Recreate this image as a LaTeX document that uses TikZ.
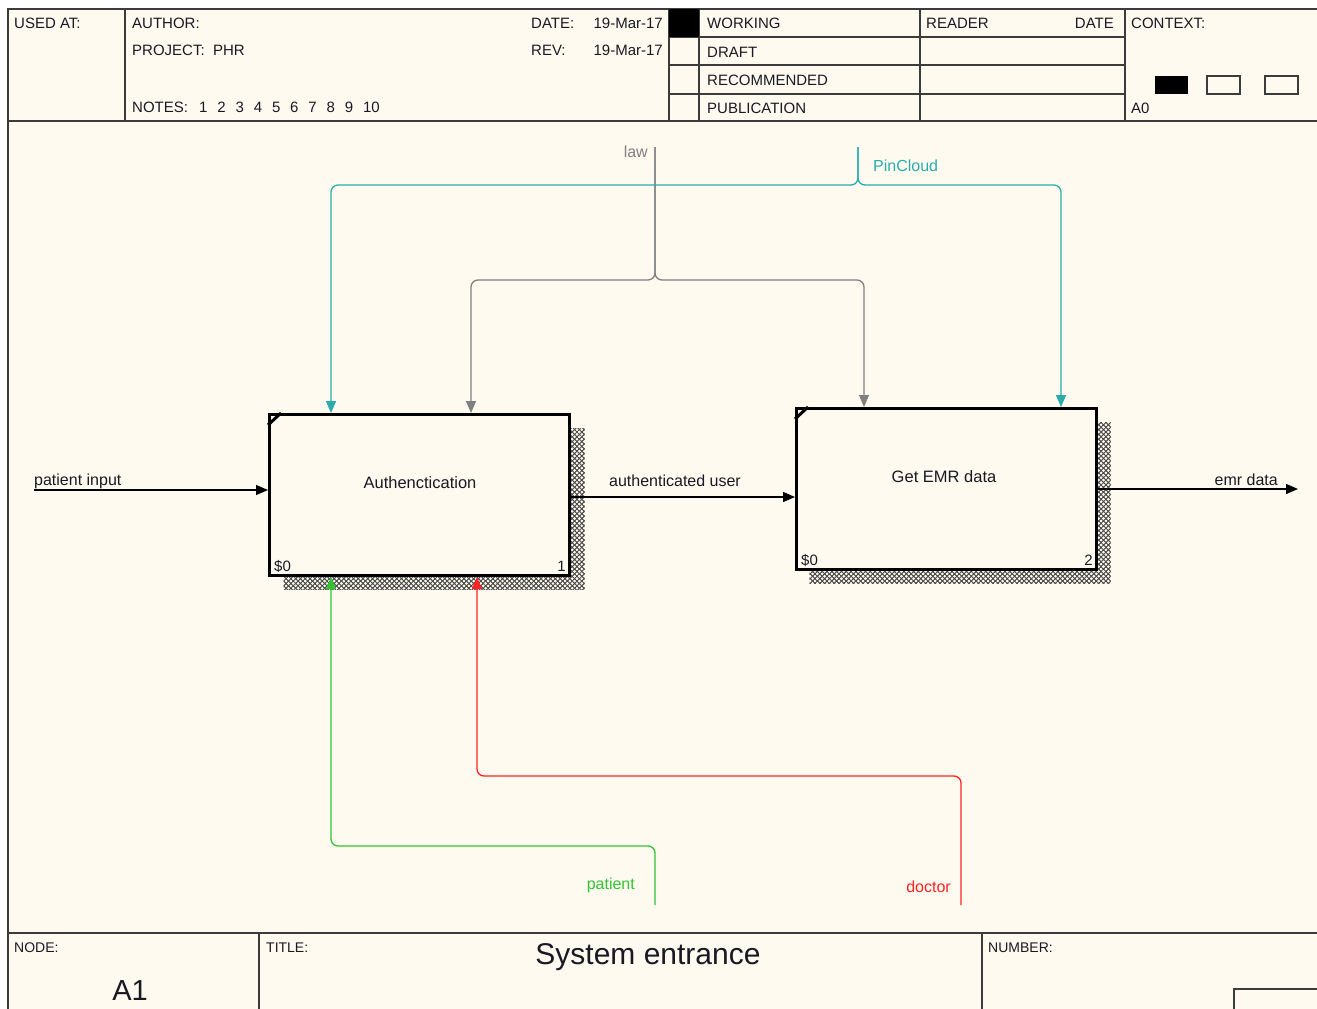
\documentclass[tikz,border=0pt]{standalone}
\usepackage{fontspec}
\setmainfont{Liberation Sans}
\usetikzlibrary{arrows.meta}
\usetikzlibrary{positioning}
\usetikzlibrary{patterns.meta}
\definecolor{sheet}{RGB}{255,250,240}
\definecolor{sheetrule}{RGB}{60,60,60}
\definecolor{ink}{RGB}{25,25,35}
\definecolor{lawgray}{RGB}{128,128,128}
\definecolor{pinteal}{RGB}{40,172,172}
\definecolor{patgreen}{RGB}{50,195,50}
\definecolor{docred}{RGB}{255,35,35}
\tikzset{
  sheetline/.style={draw=sheetrule, line width=1.3pt},
  hdr/.style={anchor=base west, inner sep=0pt, text=ink, font=\fontsize{15}{18}\selectfont},
  ftr/.style={anchor=base west, inner sep=0pt, text=ink, font=\fontsize{14}{17}\selectfont},
  lbl/.style={inner sep=0pt, text=ink, font=\fontsize{16}{19}\selectfont},
  actbox/.style={draw=black, line width=3pt, fill=sheet, minimum width=300pt, minimum height=161pt, inner sep=0pt},
  boxtext/.style={inner sep=0pt, text=ink, font=\fontsize{16.5}{20}\selectfont},
  boxnum/.style={inner sep=0pt, text=ink, font=\fontsize{15}{18}\selectfont},
  hatcha/.style={pattern={Hatch[angle=45,distance=3.4pt,line width=0.7pt]}, pattern color=gray!60!black},
  hatchb/.style={pattern={Hatch[angle=-45,distance=3.4pt,line width=0.7pt]}, pattern color=gray!60!black},
  flow/.style={line width=1.3pt, rounded corners=7pt, -{Triangle[length=12pt,width=10pt]}},
}
\begin{document}
\begin{tikzpicture}[x=1pt,y=-1pt]
  \useasboundingbox (0,0) rectangle (1317,1009);

  % sheet and header
  \fill[sheet] (8,9) rectangle (1317,1009);
  \draw[sheetline, line width=2pt] (8,1009) -- (8,9) -- (1317,9);
  \draw[sheetline] (8,121) -- (1317,121);
  \draw[sheetline] (125,9) -- (125,121);
  \draw[sheetline] (669,9) -- (669,121);
  \draw[sheetline] (699,9) -- (699,121);
  \draw[sheetline] (920,9) -- (920,121);
  \draw[sheetline] (1125,9) -- (1125,121);
  \foreach \y in {37,65,94}
    \draw[sheetline] (669,\y) -- (1125,\y);
  \fill[black] (669,9) rectangle (699,37);
  \fill[black] (1155,76) rectangle (1188,94);
  \draw[sheetline] (1207,76) rectangle (1240,94);
  \draw[sheetline] (1265,76) rectangle (1298,94);

  \node[hdr] (usedat) at (14,28) {USED AT:};
  \node[hdr] (author) at (132,28) {AUTHOR:};
  \node[hdr] (project) at (132,55) {PROJECT:\ \ PHR};
  \node[hdr] (notes) at (132,112) {NOTES:};
  \foreach \n in {1,...,10}
    \node[hdr] at (199+18.2*\n-18.2,112) {\n};
  \node[hdr] (date) at (531,28) {DATE:};
  \node[hdr, anchor=base east] (dateval) at (663,28) {19-Mar-17};
  \node[hdr] (rev) at (531,55) {REV:};
  \node[hdr, anchor=base east] (revval) at (663,55) {19-Mar-17};
  \node[hdr] (working) at (707,28) {WORKING};
  \node[hdr] (draft) at (707,57) {DRAFT};
  \node[hdr] (recommended) at (707,85) {RECOMMENDED};
  \node[hdr] (publication) at (707,113) {PUBLICATION};
  \node[hdr] (reader) at (926,28) {READER};
  \node[hdr, anchor=base east] (readerdate) at (1114,28) {DATE};
  \node[hdr] (context) at (1131,28) {CONTEXT:};
  \node[hdr] (a0) at (1131,113) {A0};

  % footer
  \draw[sheetline] (8,933) -- (1317,933);
  \draw[sheetline] (259,933) -- (259,1009);
  \draw[sheetline] (982,933) -- (982,1009);
  \draw[sheetline] (1234,1009) -- (1234,989) -- (1317,989);
  \node[ftr] (nodelbl) at (14,952) {NODE:};
  \node[ftr] (titlelbl) at (266,952) {TITLE:};
  \node[ftr] (numberlbl) at (988,952) {NUMBER:};
  \node[inner sep=0pt, text=ink, font=\fontsize{30}{36}\selectfont, anchor=base] (title) at (648,964) {System entrance};
  \node[inner sep=0pt, text=ink, font=\fontsize{29}{35}\selectfont, anchor=base] (nodeid) at (130,1000) {A1};

  % activities
  \fill[hatcha] (283.5,428.5) rectangle (584.5,589.5);
  \fill[hatchb] (283.5,428.5) rectangle (584.5,589.5);
  \fill[hatcha] (809.5,422.5) rectangle (1110.5,583.5);
  \fill[hatchb] (809.5,422.5) rectangle (1110.5,583.5);
  \node[actbox] (a1) at (419.5,495) {};
  \node[actbox] (a2) at (946.5,489) {};
  \draw[line width=3pt] ([yshift=-12pt]a1.north west) -- ([xshift=13pt]a1.north west);
  \draw[line width=3pt] ([yshift=-12pt]a2.north west) -- ([xshift=13pt]a2.north west);
  \node[boxtext] (a1txt) at (420,483) {Authenctication};
  \node[boxtext] (a2txt) at (944,477) {Get EMR data};
  \node[boxnum, anchor=base west] (a1cost) at (274,571) {\$0};
  \node[boxnum, anchor=base east] (a1num) at (566,571) {1};
  \node[boxnum, anchor=base west] (a2cost) at (801,565) {\$0};
  \node[boxnum, anchor=base east] (a2num) at (1093,565) {2};

  % inputs and outputs
  \coordinate (i1) at (34,490);
  \coordinate (o1) at (1298,489);
  \draw[flow, draw=black] (i1) -- (i1 -| a1.west);
  \draw[flow, draw=black] ([yshift=-2pt]a1.east) -- ([yshift=-2pt]a1.east -| a2.west);
  \draw[flow, draw=black] (a2.east) -- (o1);
  \node[lbl, anchor=base west] (i1lbl) at (34,485) {patient input};
  \node[lbl, anchor=base west] (u1lbl) at (609,486) {authenticated user};
  \node[lbl, anchor=base east] (o1lbl) at (1278,485) {emr data};

  % controls
  \coordinate (c1) at (655,147);
  \coordinate (c1split) at (655,280);
  \coordinate (c2) at (858,147);
  \coordinate (c2split) at (858,185);
  \draw[flow, draw=lawgray] (c1) -- (c1split) -| ([xshift=203pt]a1.north west);
  \draw[flow, draw=lawgray] (c1) -- (c1split) -| ([xshift=69pt]a2.north west);
  \draw[flow, draw=pinteal] (c2) -- (c2split) -| ([xshift=63pt]a1.north west);
  \draw[flow, draw=pinteal] (c2) -- (c2split) -| ([xshift=266pt]a2.north west);
  \node[lbl, anchor=base east, text=lawgray] (c1lbl) at (648,157) {law};
  \node[lbl, anchor=base west, text=pinteal] (c2lbl) at (873,171) {PinCloud};

  % mechanisms
  \coordinate (m1) at (655,905);
  \coordinate (m2) at (961,905);
  \draw[flow, draw=patgreen] (m1) -- (655,846) -| ([xshift=63pt]a1.south west);
  \draw[flow, draw=docred] (m2) -- (961,776) -| ([xshift=209pt]a1.south west);
  \node[lbl, anchor=base east, text=patgreen] (m1lbl) at (635,889) {patient};
  \node[lbl, anchor=base east, text=docred] (m2lbl) at (951,892) {doctor};
\end{tikzpicture}
\end{document}
